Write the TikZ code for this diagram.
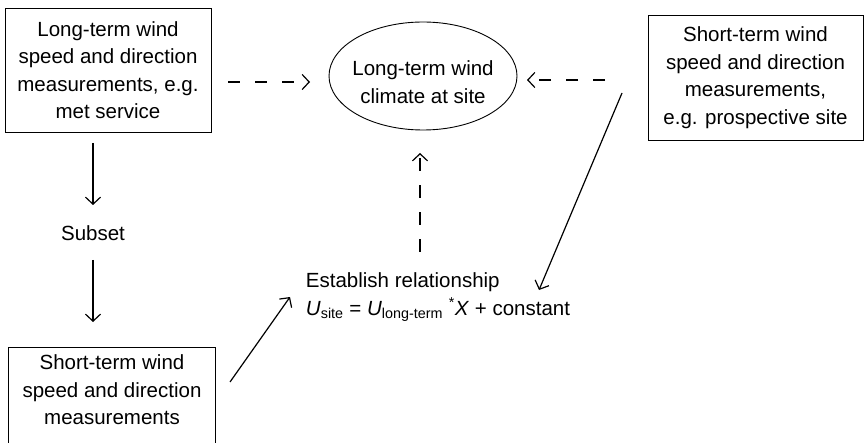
\documentclass[tikz,border=0pt]{standalone}
\usepackage{fontspec}
\setmainfont{Liberation Sans}
\usetikzlibrary{arrows.meta,shapes.geometric}
\begin{document}
\begin{tikzpicture}[x=1pt,y=-1pt,
  every node/.style={font=\fontsize{20.5}{27.5}\selectfont},
  boxnode/.style={draw, line width=0.9pt, align=center, inner sep=0pt},
  txt/.style={align=center, inner sep=0pt},
  conn/.style={line width=1.2pt, -{Straight Barb[length=7pt,width=15pt,line width=1.2pt]}},
  dconn/.style={conn, dash pattern=on 12pt off 15pt}]
\useasboundingbox (0,0) rectangle (866,443);
\clip (0,0) rectangle (866,443);
% nodes
\node[boxnode, minimum width=206pt, minimum height=124pt] (lt) at (108,70)
  {Long-term wind\\speed and direction\\measurements, e.g.\\met service};
\node[draw, ellipse, line width=0.9pt, minimum width=188pt, minimum height=108pt, inner sep=0pt] (el) at (423,76) {};
\node[txt] (eltxt) at (423,82) {Long-term wind\\climate at site};
\node[boxnode, minimum width=215pt, minimum height=125pt] (rt) at (755.5,77.5)
  {Short-term wind\\speed and direction\\measurements,\\e.g. prospective site};
\node[txt] (sub) at (93,233) {Subset};
\node[txt, align=left] (rel) at (438,297)
  {Establish relationship\\\textit{U}\textsubscript{site} = \textit{U}\textsubscript{long-term} \textsuperscript{*}\textit{X} + constant};
\node[txt] (bl) at (112,390) {Short-term wind\\speed and direction\\measurements};
\draw[line width=0.9pt] (8,347) rectangle (215,470);
% connector ends
\coordinate (a1) at (228,82);  \coordinate (a2) at (310,82);
\coordinate (b1) at (605,80);  \coordinate (b2) at (527,80);
\coordinate (c1) at (420,252); \coordinate (c2) at (420,153);
\coordinate (d1) at (622,93);  \coordinate (d2) at (539,290);
\coordinate (e1) at (230,382); \coordinate (e2) at (290,297);
\coordinate (f1) at (93,143);  \coordinate (f2) at (93,205);
\coordinate (g1) at (93,260);  \coordinate (g2) at (93,322);
% connectors
\draw[dconn] (a1) -- (a2);
\draw[dconn] (b1) -- (b2);
\draw[conn, dash pattern=on 13pt off 14pt] (c1) -- (c2);
\draw[conn] (d1) -- (d2);
\draw[conn] (e1) -- (e2);
\draw[conn] (f1) -- (f2);
\draw[conn] (g1) -- (g2);
\end{tikzpicture}
\end{document}
